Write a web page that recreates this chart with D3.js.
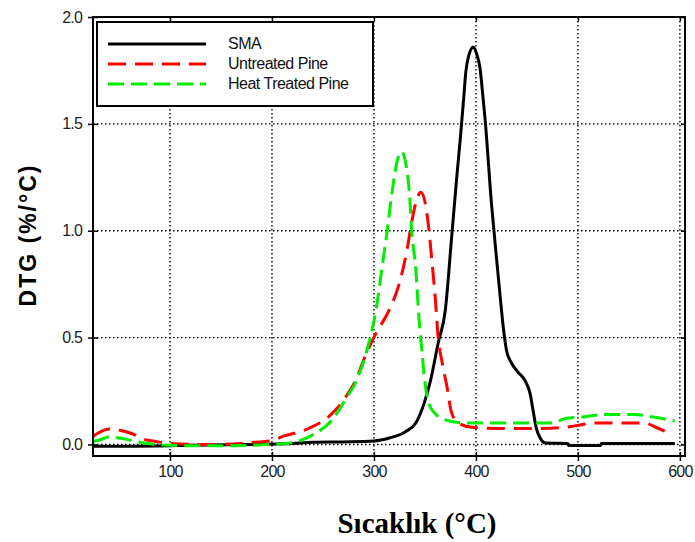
<!DOCTYPE html>
<html>
<head>
<meta charset="utf-8">
<script src="https://cdn.jsdelivr.net/npm/d3@7"></script>
<style>
  html, body { margin: 0; padding: 0; background: #fff; }
  svg { display: block; }
</style>
</head>
<body>
<svg id="chart" width="695" height="542"></svg>
<script>
// DTG curves: temperature (°C) and mass-loss rate (%/°C)
const smaTemp = [25, 60, 100, 140, 180, 220, 240, 270, 300, 315, 331, 341, 349, 355, 363, 370, 376, 381, 385, 388, 390, 393, 397.5, 400.5, 404, 407, 409, 415, 420, 424, 427, 430, 435, 441, 448, 453, 456, 459, 463, 468, 490, 491, 522, 523, 595];
const smaDtg  = [-0.008, -0.008, -0.006, -0.002, 0.0, 0.005, 0.01, 0.012, 0.016, 0.03, 0.06, 0.10, 0.19, 0.29, 0.475, 0.63, 0.96, 1.24, 1.45, 1.62, 1.74, 1.82, 1.86, 1.83, 1.76, 1.62, 1.52, 1.14, 0.88, 0.68, 0.54, 0.44, 0.38, 0.34, 0.30, 0.24, 0.16, 0.08, 0.03, 0.007, 0.005, -0.005, -0.005, 0.005, 0.005];

const untreatedTemp = [25, 30, 41, 52, 63, 74, 85, 95, 110, 140, 170, 186, 198, 212, 224, 237, 253, 263, 272, 282, 292, 302, 315, 324, 332, 337, 341, 346, 351, 354, 357, 360, 363, 367, 372, 376, 383, 396, 420, 460, 487, 497, 517, 545, 565, 578, 593];
const untreatedDtg  = [0.04, 0.055, 0.072, 0.065, 0.05, 0.025, 0.015, 0.007, 0.002, 0.0, 0.005, 0.012, 0.016, 0.04, 0.055, 0.077, 0.12, 0.165, 0.22, 0.30, 0.42, 0.52, 0.63, 0.74, 0.90, 1.04, 1.13, 1.18, 1.11, 1.0, 0.85, 0.69, 0.50, 0.38, 0.26, 0.15, 0.10, 0.08, 0.075, 0.075, 0.08, 0.087, 0.10, 0.10, 0.10, 0.077, 0.045];

const heatTemp = [25, 30, 41, 56, 69, 82, 100, 115, 150, 200, 219, 229, 240, 259, 272, 282, 295, 302, 308, 313, 318, 323, 327, 331, 335, 337, 341, 344, 347, 350, 354, 359, 370, 390, 474, 487, 507, 526, 555, 572, 595];
const heatDtg  = [0.015, 0.02, 0.035, 0.025, 0.012, 0.002, -0.004, -0.006, -0.006, 0.0, 0.008, 0.02, 0.045, 0.115, 0.21, 0.29, 0.475, 0.63, 0.83, 1.0, 1.19, 1.33, 1.37, 1.32, 1.16, 1.0, 0.82, 0.60, 0.44, 0.29, 0.19, 0.15, 0.115, 0.10, 0.10, 0.12, 0.13, 0.14, 0.14, 0.13, 0.11];

const seriesNames = ["SMA", "Untreated Pine", "Heat Treated Pine"];
const xTicks = [100, 200, 300, 400, 500, 600];
const yTicks = [0.0, 0.5, 1.0, 1.5, 2.0];

const svg = d3.select("#chart");
const plotLeft = 93, plotRight = 685, plotTop = 17, plotBottom = 456;

const x = d3.scaleLinear().domain([24.5, 605]).range([plotLeft, plotRight]);
const y = d3.scaleLinear().domain([-0.054, 2.0]).range([plotBottom, plotTop]);

svg.append("defs").append("clipPath").attr("id", "plotClip")
  .append("rect").attr("x", plotLeft).attr("y", plotTop)
  .attr("width", plotRight - plotLeft).attr("height", plotBottom - plotTop);

// dotted grid
const grid = svg.append("g").attr("stroke", "#000").attr("stroke-width", 1.4)
  .attr("stroke-dasharray", "1.5,2.5");
grid.selectAll(".gx").data(xTicks).join("line")
  .attr("x1", d => x(d)).attr("x2", d => x(d))
  .attr("y1", plotTop).attr("y2", plotBottom);
grid.selectAll(".gy").data(yTicks.filter(d => d < 2)).join("line")
  .attr("x1", plotLeft).attr("x2", plotRight)
  .attr("y1", d => y(d)).attr("y2", d => y(d));

// curves
const series = [
  { temp: smaTemp, dtg: smaDtg, color: "#000000", dash: null },
  { temp: untreatedTemp, dtg: untreatedDtg, color: "#ff0000", dash: "18,9" },
  { temp: heatTemp, dtg: heatDtg, color: "#00ee00", dash: "16,7" }
];
const line = d3.line().x(d => x(d[0])).y(d => y(d[1])).curve(d3.curveMonotoneX);
const curves = svg.append("g").attr("clip-path", "url(#plotClip)");
series.forEach(s => {
  curves.append("path")
    .datum(d3.zip(s.temp, s.dtg))
    .attr("fill", "none")
    .attr("stroke", s.color)
    .attr("stroke-width", 3)
    .attr("stroke-dasharray", s.dash)
    .attr("d", line);
});

// axes on all four sides, ticks crossing the frame
const tickFont = "Liberation Sans, Arial, sans-serif";
const axB = svg.append("g").attr("transform", `translate(0,${plotBottom})`)
  .call(d3.axisBottom(x).tickValues(xTicks).tickSize(5).tickPadding(5).tickFormat(d3.format("d")));
const axT = svg.append("g").attr("transform", `translate(0,${plotTop})`)
  .call(d3.axisTop(x).tickValues(xTicks).tickSize(-4).tickFormat(""));
const axL = svg.append("g").attr("transform", `translate(${plotLeft},0)`)
  .call(d3.axisLeft(y).tickValues(yTicks).tickSize(5).tickPadding(6).tickFormat(d3.format(".1f")));
const axR = svg.append("g").attr("transform", `translate(${plotRight},0)`)
  .call(d3.axisRight(y).tickValues(yTicks).tickSize(-4).tickFormat(""));

[axB, axT, axL, axR].forEach(a => {
  a.select(".domain").remove();
  a.selectAll(".tick line").attr("stroke", "#000").attr("stroke-width", 1.5);
  a.selectAll("text").attr("font-family", tickFont).attr("font-size", 16)
    .attr("letter-spacing", -0.8).attr("fill", "#222");
});
// inner halves of the crossing ticks
axB.selectAll(".tick").append("line").attr("y1", 0).attr("y2", -4).attr("stroke", "#000").attr("stroke-width", 1.5);
axL.selectAll(".tick").append("line").attr("x1", 0).attr("x2", 5).attr("stroke", "#000").attr("stroke-width", 1.5);

// frame
svg.append("rect").attr("x", plotLeft).attr("y", plotTop)
  .attr("width", plotRight - plotLeft).attr("height", plotBottom - plotTop)
  .attr("fill", "none").attr("stroke", "#000").attr("stroke-width", 2);

// legend
const lg = svg.append("g");
lg.append("rect").attr("x", 97).attr("y", 22).attr("width", 276).attr("height", 84)
  .attr("fill", "#fff").attr("stroke", "#000").attr("stroke-width", 2);
const legendY = [44, 64, 84];
series.forEach((s, i) => {
  lg.append("line").attr("x1", 108).attr("x2", 206)
    .attr("y1", legendY[i]).attr("y2", legendY[i])
    .attr("stroke", s.color).attr("stroke-width", 3)
    .attr("stroke-dasharray", s.dash);
  lg.append("text").attr("x", 228).attr("y", legendY[i] - 1)
    .attr("dominant-baseline", "central")
    .attr("font-family", tickFont).attr("font-size", 16).attr("letter-spacing", -0.5)
    .attr("fill", "#111").text(seriesNames[i]);
});

// axis titles
svg.append("text")
  .attr("transform", "translate(36,235) rotate(-90)")
  .attr("text-anchor", "middle")
  .attr("font-family", tickFont).attr("font-weight", "bold")
  .attr("font-size", 23).attr("letter-spacing", 2)
  .attr("fill", "#000").text("DTG (%/°C)");

svg.append("text")
  .attr("x", 417).attr("y", 533)
  .attr("text-anchor", "middle")
  .attr("font-family", "Liberation Serif, Times New Roman, serif").attr("font-weight", "bold")
  .attr("font-size", 29).attr("fill", "#000").text("Sıcaklık (°C)");
</script>
</body>
</html>
